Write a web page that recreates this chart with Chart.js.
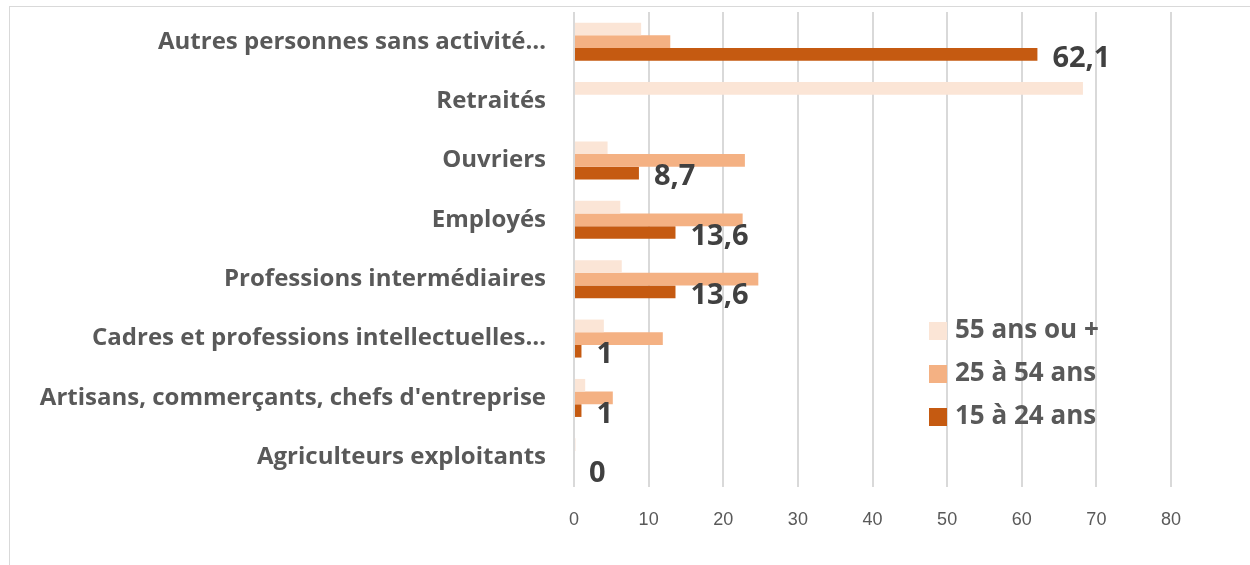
<!DOCTYPE html>
<html>
<head>
<meta charset="utf-8">
<script src="https://cdn.jsdelivr.net/npm/chart.js@4"></script>
<style>
  html, body { margin: 0; padding: 0; background: #fff; overflow: hidden; }
  #frame { position: absolute; left: 9px; top: 6px; width: 1300px; height: 600px;
           border-top: 1px solid #d9d9d9; border-left: 1px solid #d9d9d9; }
  #wrap { position: absolute; left: 0; top: 0; width: 1250px; height: 565px; }
</style>
</head>
<body>
<div id="frame"></div>
<div id="wrap"><canvas id="myChart" width="1250" height="565"></canvas></div>
<script>
// --- Data ---
const categories = [
  "Autres personnes sans activité…",
  "Retraités",
  "Ouvriers",
  "Employés",
  "Professions intermédiaires",
  "Cadres et professions intellectuelles…",
  "Artisans, commerçants, chefs d'entreprise",
  "Agriculteurs exploitants"
];
const seriesNames = ["55 ans ou +", "25 à 54 ans", "15 à 24 ans"];
const ans55plus = [9.0, 68.2, 4.5, 6.2, 6.4, 4.0, 1.5, 0.2];
const ans25to54 = [12.9, null, 22.9, 22.6, 24.7, 11.9, 5.2, 0];
const ans15to24 = [62.1, null, 8.7, 13.6, 13.6, 1, 1, 0];
const xTicks = [0, 10, 20, 30, 40, 50, 60, 70, 80];

const colors = ["#fbe5d6", "#f4b183", "#c55a11"];
const labelFont = "'Open Sans', Lato, sans-serif";

// --- Plugins ---
// value labels on the 15-24 series
const valueLabels = {
  id: "valueLabels",
  afterDatasetsDraw(chart) {
    const c = chart.ctx;
    const meta = chart.getDatasetMeta(2);
    c.save();
    c.font = "bold 29px " + labelFont;
    c.fillStyle = "#404040";
    c.textBaseline = "middle";
    meta.data.forEach((bar, i) => {
      const v = ans15to24[i];
      if (v === null) return;
      c.fillText(String(v).replace(".", ","), bar.x + 15, bar.y + 4);
    });
    c.restore();
  }
};

// legend drawn inside the plot area
const innerLegend = {
  id: "innerLegend",
  afterDraw(chart) {
    const c = chart.ctx;
    c.save();
    c.font = "bold 26px " + labelFont;
    c.textBaseline = "middle";
    chart.data.datasets.forEach((ds, i) => {
      const y = 331 + i * 43;
      c.fillStyle = ds.backgroundColor;
      c.fillRect(929, y - 9, 18, 18);
      c.fillStyle = "#595959";
      c.fillText(ds.label, 955, y);
    });
    c.restore();
  }
};

const ctx = document.getElementById("myChart").getContext("2d");
new Chart(ctx, {
  type: "bar",
  data: {
    labels: categories,
    datasets: [
      { label: seriesNames[0], data: ans55plus, backgroundColor: colors[0] },
      { label: seriesNames[1], data: ans25to54, backgroundColor: colors[1] },
      { label: seriesNames[2], data: ans15to24, backgroundColor: colors[2] }
    ]
  },
  options: {
    indexAxis: "y",
    responsive: false,
    animation: false,
    datasets: { bar: { barPercentage: 1, categoryPercentage: 0.64 } },
    layout: { padding: { top: 12, right: 79, bottom: 0, left: 0 } },
    scales: {
      x: {
        min: 0, max: 80,
        afterBuildTicks: (s) => { s.ticks = xTicks.map((v) => ({ value: v })); },
        afterFit: (s) => { s.height = 78; s.paddingLeft = 0; s.paddingRight = 0; },
        grid: { color: "#d9d9d9", lineWidth: 2, drawTicks: false },
        border: { display: false },
        ticks: {
          padding: 22,
          color: "#595959",
          font: { family: "'Liberation Sans Narrow', 'Liberation Sans', sans-serif", size: 18 }
        }
      },
      y: {
        afterFit: (s) => { s.width = 574; s.paddingTop = 0; s.paddingBottom = 0; },
        grid: { display: false, drawTicks: false },
        border: { display: false },
        ticks: {
          padding: 28,
          color: "#595959",
          font: { family: labelFont, size: 24, weight: "bold" }
        }
      }
    },
    plugins: {
      legend: { display: false },
      tooltip: { enabled: false }
    }
  },
  plugins: [valueLabels, innerLegend]
});
</script>
</body>
</html>
